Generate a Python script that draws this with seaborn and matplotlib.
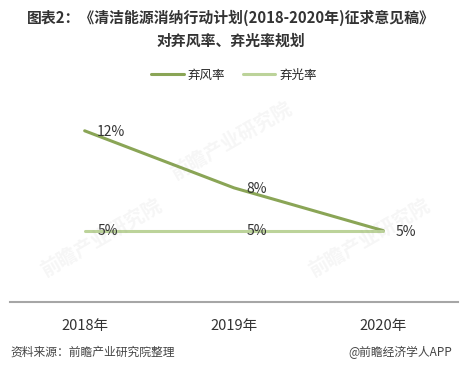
import pandas as pd
import matplotlib
matplotlib.use("Agg")
import matplotlib.pyplot as plt
import seaborn as sns

# data
years = ["2018年", "2019年", "2020年"]
wind_rate = [0.12, 0.08, 0.05]
solar_rate = [0.05, 0.05, 0.05]
wind_labels = ["12%", "8%", "5%"]
solar_labels = ["5%", "5%", ""]

df = pd.DataFrame({
    "year": years * 2,
    "rate": wind_rate + solar_rate,
    "series": ["弃风率"] * 3 + ["弃光率"] * 3,
})

sns.set_theme(style="white")
plt.rcParams["font.family"] = ["Noto Sans CJK SC", "DejaVu Sans"]

fig = plt.figure(figsize=(4.62, 3.72), dpi=100)
ax = fig.add_axes([10 / 462, 70 / 372, 448 / 462, 214 / 372])

palette = {"弃风率": "#8aa556", "弃光率": "#bcd39a"}
sns.lineplot(data=df, x="year", y="rate", hue="series", palette=palette,
             linewidth=2.2, ax=ax, legend=False, sort=False)

for i, (v, lab) in enumerate(zip(solar_rate, solar_labels)):
    if lab:
        ax.annotate(lab, (i, v), xytext=(9, 0), textcoords="offset points",
                    ha="left", va="center", fontsize=10, color="#333333")
for i, (v, lab) in enumerate(zip(wind_rate, wind_labels)):
    ax.annotate(lab, (i, v), xytext=(9, -1), textcoords="offset points",
                ha="left", va="center", fontsize=10, color="#333333")

ax.set_xlim(-0.5, 2.5)
ax.set_ylim(0, 0.15)
ax.set_yticks([])
ax.set_xlabel("")
ax.set_ylabel("")
for s in ["top", "right", "left"]:
    ax.spines[s].set_visible(False)
ax.spines["bottom"].set_color("#a6a6a6")
ax.spines["bottom"].set_linewidth(1.5)
ax.tick_params(axis="x", length=0, pad=12, labelsize=10.5, labelcolor="#333333")

# legend
handles = [plt.Line2D([], [], color=palette[k], linewidth=2.2) for k in ["弃风率", "弃光率"]]
fig.legend(handles, ["弃风率", "弃光率"], loc="center", bbox_to_anchor=(234 / 462, 1 - 75 / 372),
           ncol=2, frameon=False, fontsize=9, handlelength=2.6, handletextpad=0.3,
           columnspacing=1.4)

# title
fig.text(0.5, 1 - 18 / 372, "图表2：《清洁能源消纳行动计划(2018-2020年)征求意见稿》",
         ha="center", va="center", fontsize=10.7, fontweight="bold", color="#333333")
fig.text(0.5, 1 - 41 / 372, "对弃风率、弃光率规划",
         ha="center", va="center", fontsize=10.7, fontweight="bold", color="#333333")

# source / footer
fig.text(10 / 462, 1 - 352 / 372, "资料来源：前瞻产业研究院整理", ha="left", va="center",
         fontsize=8.5, style="italic", color="#444444")
fig.text(452 / 462, 1 - 352 / 372, "@前瞻经济学人APP", ha="right", va="center",
         fontsize=8.5, color="#444444")

# faint watermarks
for (x, y) in [(0.50, 0.62), (0.22, 0.36), (0.80, 0.36)]:
    fig.text(x, y, "前瞻产业研究院", rotation=30, fontsize=14, color="#888888",
             alpha=0.08, ha="center", va="center", fontweight="bold")

fig.savefig("out.png", dpi=100)
